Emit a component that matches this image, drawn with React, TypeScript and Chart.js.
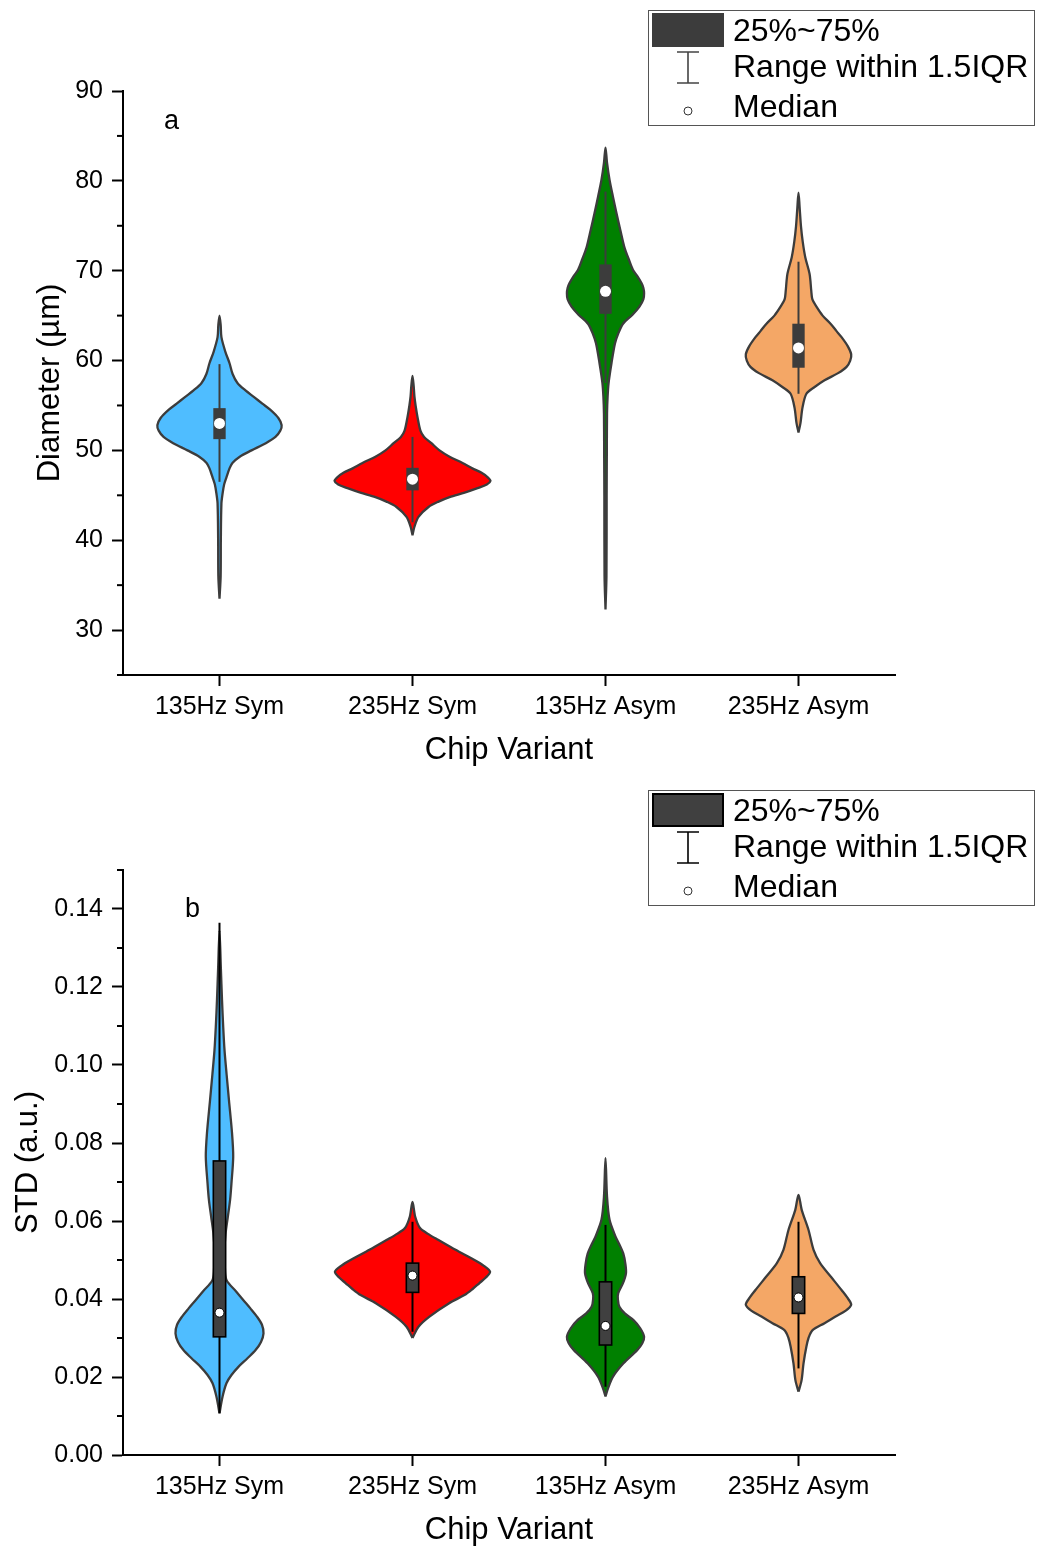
import React, { useEffect, useRef } from "react";
import { Chart, registerables } from "chart.js";

Chart.register(...registerables);

type Profile = [number, number][];

// ---------- data ----------
const categories = ["135Hz Sym", "235Hz Sym", "135Hz Asym", "235Hz Asym"];
const fillColors = ["#4FBDFF", "#FF0000", "#008000", "#F4A766"];

// Panel a: diameter violin outlines, [value, half width as fraction of category spacing]
const dia135Sym: Profile = [
  [33.5, 0], [36, 0.006], [40, 0.007], [44.1, 0.01], [45.2, 0.016], [46.2, 0.024], [47.0, 0.036],
  [48.0, 0.052], [48.6, 0.067], [49.3, 0.105], [50.0, 0.166], [50.8, 0.24], [51.5, 0.29], [52.2, 0.315],
  [52.8, 0.322], [53.6, 0.305], [54.5, 0.264], [55.2, 0.222], [55.9, 0.181], [56.7, 0.133], [57.5, 0.093],
  [58.5, 0.068], [59.7, 0.052], [61.0, 0.03], [62.6, 0.01], [64, 0.006], [65.0, 0],
];
const dia235Sym: Profile = [
  [40.55, 0], [41.5, 0.01], [42.6, 0.031], [43.7, 0.083], [44.3, 0.135], [44.8, 0.192], [45.3, 0.27],
  [45.8, 0.337], [46.2, 0.385], [46.6, 0.404], [47.0, 0.39], [47.5, 0.358], [48.0, 0.31], [48.6, 0.259],
  [49.3, 0.192], [50.0, 0.14], [50.8, 0.098], [51.5, 0.06], [52.2, 0.041], [53.7, 0.026], [55.0, 0.016],
  [56.0, 0.01], [57.2, 0.006], [58.3, 0],
];
const dia135Asym: Profile = [
  [32.3, 0], [36, 0.005], [45, 0.006], [50, 0.007], [54.1, 0.008], [56.0, 0.011], [57.5, 0.016],
  [59.7, 0.031], [61.9, 0.049], [63.0, 0.066], [64.1, 0.091], [65.1, 0.14], [66.0, 0.176], [66.8, 0.196],
  [67.5, 0.2], [68.1, 0.196], [68.6, 0.187], [69.4, 0.165], [70.1, 0.142], [71.3, 0.12], [72.6, 0.098],
  [74.5, 0.077], [76.4, 0.057], [78.3, 0.038], [80.1, 0.021], [82.0, 0.008], [83.7, 0],
];
const dia235Asym: Profile = [
  [52.0, 0], [53.0, 0.01], [54.8, 0.021], [56.3, 0.041], [57.0, 0.08], [57.8, 0.135], [58.6, 0.205],
  [59.3, 0.249], [60.0, 0.268], [60.7, 0.273], [61.6, 0.255], [62.6, 0.223], [63.3, 0.196], [64.1, 0.166],
  [65.0, 0.125], [66.0, 0.093], [66.8, 0.072], [67.8, 0.066], [68.8, 0.062], [69.7, 0.057], [71.5, 0.035],
  [73.2, 0.022], [74.9, 0.013], [77.0, 0.006], [78.7, 0],
];

const diaQ1 = [51.25, 45.55, 65.2, 59.2];
const diaQ3 = [54.7, 48.06, 70.7, 64.1];
const diaMedian = [53.0, 46.8, 67.7, 61.4];
const diaWhiskerLow = [46.5, 42.0, 57.5, 56.3];
const diaWhiskerHigh = [59.6, 51.5, 78.8, 71.0];

// Panel b: STD violin outlines
const std135Sym: Profile = [
  [0.0107, 0], [0.015, 0.016], [0.0184, 0.036], [0.0205, 0.062], [0.0226, 0.098], [0.0248, 0.145],
  [0.0269, 0.187], [0.029, 0.215], [0.0312, 0.228], [0.0334, 0.22], [0.0355, 0.194], [0.0376, 0.16],
  [0.0397, 0.124], [0.042, 0.085], [0.0449, 0.036], [0.049, 0.027], [0.0526, 0.026], [0.057, 0.032],
  [0.061, 0.043], [0.0655, 0.055], [0.0697, 0.062], [0.0765, 0.071], [0.0825, 0.065], [0.091, 0.049],
  [0.0975, 0.037], [0.1038, 0.026], [0.11, 0.019], [0.1167, 0.013], [0.125, 0.007], [0.1345, 0],
];
const std235Sym: Profile = [
  [0.030, 0], [0.0329, 0.031], [0.0355, 0.088], [0.039, 0.192], [0.041, 0.269], [0.0425, 0.31],
  [0.0441, 0.347], [0.0455, 0.38], [0.047, 0.402], [0.0485, 0.37], [0.05, 0.321], [0.0526, 0.223],
  [0.0551, 0.135], [0.0567, 0.08], [0.0582, 0.039], [0.0611, 0.014], [0.0649, 0],
];
const std135Asym: Profile = [
  [0.015, 0], [0.0171, 0.013], [0.0201, 0.039], [0.0235, 0.093], [0.0269, 0.164], [0.0286, 0.19],
  [0.0303, 0.2], [0.0325, 0.18], [0.0346, 0.145], [0.0363, 0.1], [0.038, 0.072], [0.040, 0.064],
  [0.0415, 0.066], [0.044, 0.09], [0.0466, 0.106], [0.049, 0.103], [0.0517, 0.092], [0.054, 0.072],
  [0.056, 0.052], [0.0603, 0.021], [0.0662, 0.008], [0.0761, 0],
];
const std235Asym: Profile = [
  [0.0162, 0], [0.0192, 0.016], [0.0235, 0.026], [0.0278, 0.041], [0.030, 0.052], [0.032, 0.073],
  [0.0338, 0.135], [0.0355, 0.192], [0.037, 0.245], [0.0385, 0.273], [0.040, 0.258], [0.0423, 0.223],
  [0.0457, 0.168], [0.0492, 0.112], [0.0526, 0.078], [0.0577, 0.052], [0.0628, 0.017], [0.0667, 0],
];

const stdQ1 = [0.0303, 0.0417, 0.0282, 0.0363];
const stdQ3 = [0.0754, 0.0492, 0.0444, 0.0457];
const stdMedian = [0.0365, 0.046, 0.0331, 0.0404];
const stdWhiskerLow = [0.0107, 0.0316, 0.0175, 0.0222];
const stdWhiskerHigh = [0.1365, 0.0598, 0.059, 0.0598];

const diaTicks = [30, 40, 50, 60, 70, 80, 90];
const diaMinorTicks = [25, 35, 45, 55, 65, 75, 85];
const stdTicks = [0, 0.02, 0.04, 0.06, 0.08, 0.1, 0.12, 0.14];
const stdMinorTicks = [0.01, 0.03, 0.05, 0.07, 0.09, 0.11, 0.13, 0.15];

const legendLabels = ["25%~75%", "Range within 1.5IQR", "Median"];

// ---------- styling ----------
const FONT = "'Liberation Sans', Arial, Helvetica, sans-serif";
const OUTLINE = "#3c3c3c";
const BOX_HALF = 0.032;
const WIDTH = 1038;

interface PanelSpec {
  profiles: Profile[];
  q1: number[];
  q3: number[];
  median: number[];
  low: number[];
  high: number[];
  yMin: number;
  yMax: number;
  ticks: number[];
  minor: number[];
  decimals: number;
  yTitle: string;
  yTitlePad: number;
  xTitlePad: number;
  letter: string;
  letterX: number;
  letterY: number;
  height: number;
  top: number;
  dark: boolean;
}

const panelA: PanelSpec = {
  profiles: [dia135Sym, dia235Sym, dia135Asym, dia235Asym],
  q1: diaQ1, q3: diaQ3, median: diaMedian, low: diaWhiskerLow, high: diaWhiskerHigh,
  yMin: 25, yMax: 90, ticks: diaTicks, minor: diaMinorTicks, decimals: 0,
  yTitle: "Diameter (µm)", yTitlePad: 34.5, xTitlePad: 14.5,
  letter: "a", letterX: 164, letterY: 129,
  height: 780, top: 91, dark: false,
};

const panelB: PanelSpec = {
  profiles: [std135Sym, std235Sym, std135Asym, std235Asym],
  q1: stdQ1, q3: stdQ3, median: stdMedian, low: stdWhiskerLow, high: stdWhiskerHigh,
  yMin: 0, yMax: 0.15, ticks: stdTicks, minor: stdMinorTicks, decimals: 2,
  yTitle: "STD (a.u.)", yTitlePad: 12.5, xTitlePad: 0.5,
  letter: "b", letterX: 185, letterY: 137,
  height: 766, top: 90, dark: true,
};

function violinOutline(profile: Profile, center: number) {
  const right = profile.map(([v, w]) => ({ x: center + w, y: v }));
  const left = profile
    .slice(0, -1)
    .reverse()
    .map(([v, w]) => ({ x: center - w, y: v }));
  return [...right, ...left];
}

const overlayPlugin = {
  id: "violinOverlay",
  afterDatasetsDraw(chart: any) {
    const spec: PanelSpec = chart.options.plugins.violinOverlay.spec;
    const xs = chart.scales.x;
    const ys = chart.scales.y;
    const ctx: CanvasRenderingContext2D = chart.ctx;
    ctx.save();
    spec.q1.forEach((q1, i) => {
      const c = i + 0.5;
      const xc = xs.getPixelForValue(c);
      ctx.strokeStyle = spec.dark ? "#000" : OUTLINE;
      ctx.lineWidth = 2;
      ctx.beginPath();
      ctx.moveTo(xc, ys.getPixelForValue(spec.low[i]));
      ctx.lineTo(xc, ys.getPixelForValue(spec.high[i]));
      ctx.stroke();
      const x0 = xs.getPixelForValue(c - BOX_HALF);
      const x1 = xs.getPixelForValue(c + BOX_HALF);
      const y0 = ys.getPixelForValue(spec.q3[i]);
      const y1 = ys.getPixelForValue(q1);
      ctx.fillStyle = spec.dark ? "#404040" : OUTLINE;
      ctx.fillRect(x0, y0, x1 - x0, y1 - y0);
      if (spec.dark) {
        ctx.strokeStyle = "#000";
        ctx.lineWidth = 1.6;
        ctx.strokeRect(x0, y0, x1 - x0, y1 - y0);
      }
      ctx.beginPath();
      ctx.arc(xc, ys.getPixelForValue(spec.median[i]), spec.dark ? 4.5 : 5.5, 0, Math.PI * 2);
      ctx.fillStyle = "#fff";
      ctx.fill();
      if (spec.dark) {
        ctx.strokeStyle = "#000";
        ctx.lineWidth = 1;
        ctx.stroke();
      }
    });
    ctx.restore();
  },
  afterDraw(chart: any) {
    const spec: PanelSpec = chart.options.plugins.violinOverlay.spec;
    const ys = chart.scales.y;
    const left = chart.chartArea.left;
    const ctx: CanvasRenderingContext2D = chart.ctx;
    ctx.save();
    // minor ticks
    ctx.strokeStyle = "#000";
    ctx.lineWidth = 2;
    spec.minor.forEach((v) => {
      const y = ys.getPixelForValue(v);
      ctx.beginPath();
      ctx.moveTo(left - 6, y);
      ctx.lineTo(left, y);
      ctx.stroke();
    });
    // panel letter
    ctx.fillStyle = "#000";
    ctx.font = `27px ${FONT}`;
    ctx.textBaseline = "alphabetic";
    ctx.textAlign = "left";
    ctx.fillText(spec.letter, spec.letterX, spec.letterY);
    // legend
    ctx.strokeStyle = "#555";
    ctx.lineWidth = 1;
    ctx.strokeRect(648.5, 10.5, 386, 115);
    ctx.fillStyle = spec.dark ? "#404040" : OUTLINE;
    ctx.fillRect(652, 13, 72, 34);
    if (spec.dark) {
      ctx.strokeStyle = "#000";
      ctx.lineWidth = 2;
      ctx.strokeRect(653, 14, 70, 32);
    }
    ctx.strokeStyle = spec.dark ? "#000" : "#444";
    ctx.lineWidth = 1.6;
    ctx.beginPath();
    ctx.moveTo(688, 52);
    ctx.lineTo(688, 83);
    ctx.moveTo(677, 52);
    ctx.lineTo(699, 52);
    ctx.moveTo(677, 83);
    ctx.lineTo(699, 83);
    ctx.stroke();
    ctx.beginPath();
    ctx.arc(688, 111, 4, 0, Math.PI * 2);
    ctx.fillStyle = "#fff";
    ctx.fill();
    ctx.strokeStyle = "#333";
    ctx.lineWidth = 1;
    ctx.stroke();
    ctx.fillStyle = "#000";
    ctx.font = `32px ${FONT}`;
    ctx.fillText(legendLabels[0], 733, 41);
    ctx.fillText(legendLabels[1], 733, 77);
    ctx.fillText(legendLabels[2], 733, 117);
    ctx.restore();
  },
};

function buildChart(canvas: HTMLCanvasElement, spec: PanelSpec) {
  const datasets = spec.profiles.map((p, i) => ({
    data: violinOutline(p, i + 0.5),
    borderColor: OUTLINE,
    borderWidth: 2.3,
    backgroundColor: fillColors[i],
    fill: "shape",
    pointRadius: 0,
    tension: 0.3,
  }));
  const axisGrid = {
    display: true,
    drawOnChartArea: false,
    drawTicks: true,
    tickLength: 11,
    tickWidth: 2,
    tickColor: "#000",
  };
  return new Chart(canvas, {
    type: "line",
    data: { datasets: datasets as any },
    plugins: [overlayPlugin],
    options: {
      animation: false,
      responsive: false,
      devicePixelRatio: 1,
      events: [],
      layout: { padding: { top: spec.top, right: WIDTH - 895, left: 0, bottom: 0 } },
      plugins: {
        legend: { display: false },
        tooltip: { enabled: false },
        violinOverlay: { spec },
      } as any,
      scales: {
        x: {
          type: "linear",
          min: 0,
          max: 4,
          afterBuildTicks: (scale: any) => {
            scale.ticks = categories.map((_, i) => ({ value: i + 0.5 }));
          },
          afterFit: (scale: any) => {
            scale.height = spec.height - 675;
          },
          ticks: {
            callback: (v: any) => categories[Math.round(Number(v) - 0.5)] ?? "",
            font: { family: FONT, size: 25 },
            color: "#000",
            padding: 6,
            maxRotation: 0,
            autoSkip: false,
          },
          grid: axisGrid,
          border: { display: true, color: "#000", width: 2 },
          title: {
            display: true,
            text: "Chip Variant",
            font: { family: FONT, size: 31, lineHeight: 1 },
            color: "#000",
            padding: { top: 0, bottom: spec.xTitlePad },
          },
        },
        y: {
          type: "linear",
          min: spec.yMin,
          max: spec.yMax,
          afterBuildTicks: (scale: any) => {
            scale.ticks = spec.ticks.map((v) => ({ value: v }));
          },
          afterFit: (scale: any) => {
            scale.width = 123;
          },
          ticks: {
            callback: (v: any) => Number(v).toFixed(spec.decimals),
            font: { family: FONT, size: 25 },
            color: "#000",
            padding: 9,
            autoSkip: false,
          },
          grid: axisGrid,
          border: { display: true, color: "#000", width: 2 },
          title: {
            display: true,
            text: spec.yTitle,
            font: { family: FONT, size: 31, lineHeight: 1 },
            color: "#000",
            padding: { top: spec.yTitlePad, bottom: 0 },
          },
        },
      },
    } as any,
  });
}

export default function App() {
  const refA = useRef<HTMLCanvasElement>(null);
  const refB = useRef<HTMLCanvasElement>(null);

  useEffect(() => {
    const a = buildChart(refA.current!, panelA);
    const b = buildChart(refB.current!, panelB);
    return () => {
      a.destroy();
      b.destroy();
    };
  }, []);

  return (
    <div
      style={{
        position: "absolute",
        left: 0,
        top: 0,
        width: WIDTH,
        height: 1546,
        overflow: "hidden",
        background: "#fff",
      }}
    >
      <canvas ref={refA} width={WIDTH} height={panelA.height} style={{ display: "block" }} />
      <canvas ref={refB} width={WIDTH} height={panelB.height} style={{ display: "block" }} />
    </div>
  );
}
